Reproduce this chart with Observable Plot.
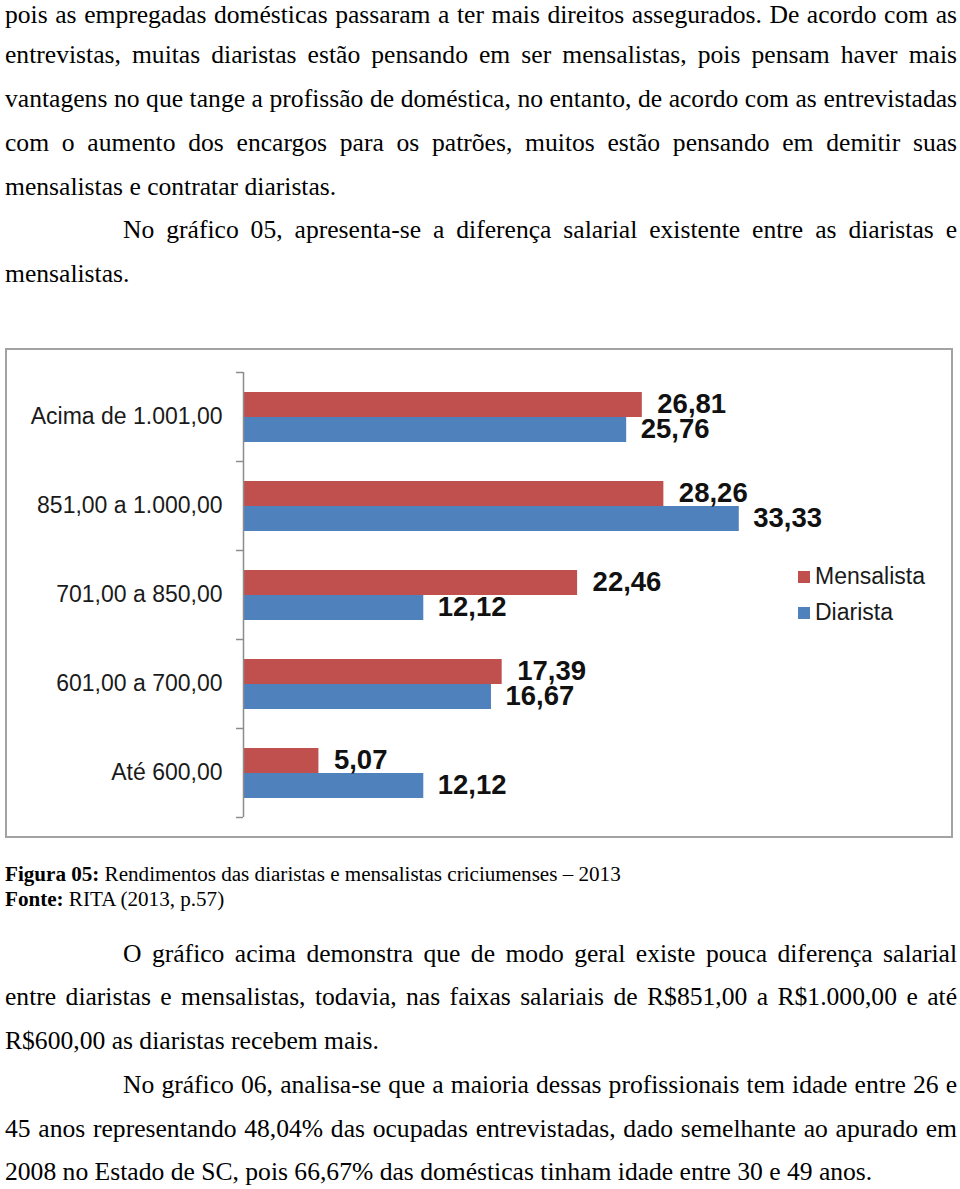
<!DOCTYPE html>
<html lang="pt">
<head>
<meta charset="utf-8">
<script src="https://cdn.jsdelivr.net/npm/d3@7"></script>
<script src="https://cdn.jsdelivr.net/npm/@observablehq/plot@0.6"></script>
<style>
  html, body { margin: 0; padding: 0; background: #fff; }
  body { position: relative; width: 960px; height: 1189px; overflow: hidden; }
  .blk { position: absolute; left: 5px; width: 952px; font-family: "Liberation Serif", "Times New Roman", serif; color: #000; }
  .body { font-size: 25.6px; line-height: 43.75px; }
  .first { line-height: 24px; }
  .line { display: block; white-space: nowrap; }
  .ind { padding-left: 118px; }
  .cap { font-size: 21.1px; line-height: 25px; }
  #chartbox { position: absolute; left: 5px; top: 348px; width: 944px; height: 486px; border: 2px solid #a3a3a3; background: #fff; }
  #chartbox svg { display: block; }
  .lg { position: absolute; font-family: "Liberation Sans", Arial, sans-serif; font-size: 23px; line-height: 23px; color: #1a1a1a; white-space: nowrap; }
  .sw { position: absolute; width: 12px; height: 12px; }
</style>
</head>
<body>

<div class="blk body first" style="top:2.5px">
  <span class="line j">pois as empregadas domésticas passaram a ter mais direitos assegurados. De acordo com as</span>
</div>
<div class="blk body" style="top:33.25px">
  <span class="line j">entrevistas, muitas diaristas estão pensando em ser mensalistas, pois pensam haver mais</span>
  <span class="line j">vantagens no que tange a profissão de doméstica, no entanto, de acordo com as entrevistadas</span>
  <span class="line j">com o aumento dos encargos para os patrões, muitos estão pensando em demitir suas</span>
  <span class="line">mensalistas e contratar diaristas.</span>
  <span class="line j ind">No gráfico 05, apresenta-se a diferença salarial existente entre as diaristas e</span>
  <span class="line">mensalistas.</span>
</div>

<div id="chartbox"></div>
<div id="legend"></div>

<div class="blk cap" style="top:862px">
  <span class="line"><b>Figura 05:</b> Rendimentos das diaristas e mensalistas criciumenses – 2013</span>
  <span class="line"><b>Fonte:</b> RITA (2013, p.57)</span>
</div>

<div class="blk body" style="top:931.5px">
  <span class="line j ind">O gráfico acima demonstra que de modo geral existe pouca diferença salarial</span>
  <span class="line j">entre diaristas e mensalistas, todavia, nas faixas salariais de R$851,00 a R$1.000,00 e até</span>
  <span class="line">R$600,00 as diaristas recebem mais.</span>
  <span class="line j ind">No gráfico 06, analisa-se que a maioria dessas profissionais tem idade entre 26 e</span>
  <span class="line j">45 anos representando 48,04% das ocupadas entrevistadas, dado semelhante ao apurado em</span>
  <span class="line">2008 no Estado de SC, pois 66,67% das domésticas tinham idade entre 30 e 49 anos.</span>
</div>

<script>
// ---- data ----
const categories = ["Acima de 1.001,00", "851,00 a 1.000,00", "701,00 a 850,00", "601,00 a 700,00", "Até 600,00"];
const series = ["Mensalista", "Diarista"];
const mensalista = [26.81, 28.26, 22.46, 17.39, 5.07];
const diarista = [25.76, 33.33, 12.12, 16.67, 12.12];
const colors = ["#C0504D", "#4F81BD"];

const rowsM = categories.map((c, i) => ({category: c, series: series[0], value: mensalista[i]}));
const rowsD = categories.map((c, i) => ({category: c, series: series[1], value: diarista[i]}));
const fmt = d => d.value.toFixed(2).replace(".", ",");

const W = 944, H = 486;
const chart = Plot.plot({
  width: W,
  height: H,
  marginLeft: 236,
  marginRight: 113,
  marginTop: 22,
  marginBottom: 19,
  style: {fontFamily: "'Liberation Sans', Arial, sans-serif", fontSize: "23px", color: "#1a1a1a", background: "#fff", overflow: "visible"},
  x: {domain: [0, 40], axis: null},
  y: {domain: categories, padding: 0, axis: null},
  color: {domain: series, range: colors},
  marks: [
    Plot.barX(rowsM, {x: "value", y: "category", fill: "series", insetTop: 20, insetBottom: 44}),
    Plot.barX(rowsD, {x: "value", y: "category", fill: "series", insetTop: 45, insetBottom: 19}),
    Plot.ruleX([0], {stroke: "#8c8c8c", strokeWidth: 1.5}),
    Plot.axisY({ticks: categories, tickSize: 7, tickFormat: () => "", dy: -44.5, stroke: "#8c8c8c", strokeWidth: 1.5, label: null}),
    Plot.axisY({ticks: categories.slice(-1), tickSize: 7, tickFormat: () => "", dy: 44.5, stroke: "#8c8c8c", strokeWidth: 1.5, label: null}),
    Plot.axisY({ticks: categories, tickSize: 0, tickPadding: 21, fontSize: 23, fill: "#1a1a1a", label: null}),
    Plot.text(rowsM, {x: "value", y: "category", text: fmt, dx: 15, dy: -12.5, textAnchor: "start", fontWeight: "bold", fontSize: 27.5, fill: "#111"}),
    Plot.text(rowsD, {x: "value", y: "category", text: fmt, dx: 14, dy: 12.5, textAnchor: "start", fontWeight: "bold", fontSize: 27.5, fill: "#111"})
  ]
});
document.getElementById("chartbox").appendChild(chart);

// legend (HTML, placed over the chart box)
const legend = document.getElementById("legend");
const legendTops = [571, 607];
series.forEach((s, i) => {
  const sw = document.createElement("div");
  sw.className = "sw";
  sw.style.left = "798px";
  sw.style.top = legendTops[i] + "px";
  sw.style.background = colors[i];
  legend.appendChild(sw);
  const t = document.createElement("div");
  t.className = "lg";
  t.style.left = "815px";
  t.style.top = (legendTops[i] - 6) + "px";
  t.textContent = s;
  legend.appendChild(t);
});

// justify the full lines by distributing word spacing
document.querySelectorAll(".line.j").forEach(el => {
  el.style.display = "inline-block";
  const target = 952 - (el.classList.contains("ind") ? 118 : 0);
  const clone = el.cloneNode(true);
  clone.style.paddingLeft = "0";
  clone.style.display = "inline-block";
  el.parentNode.appendChild(clone);
  const natural = clone.getBoundingClientRect().width;
  clone.remove();
  const spaces = (el.textContent.trim().match(/ +/g) || []).length;
  if (spaces > 0) el.style.wordSpacing = ((target - natural) / spaces) + "px";
  el.style.display = "block";
});
</script>
</body>
</html>
